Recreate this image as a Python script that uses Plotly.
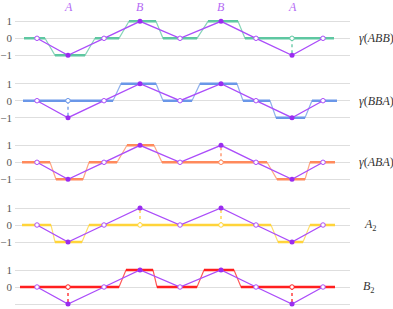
import numpy as np
import plotly.graph_objects as go

# ---------------- data ----------------
purple_x = [37, 68, 104, 140, 180, 221, 256, 292, 323]
purple_y = [0, -1, 0, 1, 0, 1, 0, -1, 0]

top_letters = ["A", "B", "B", "A"]
top_letter_x = [68, 140, 221, 292]

panel_labels = ["<i>γ</i>(<i>ABB</i>)", "<i>γ</i>(<i>BBA</i>)", "<i>γ</i>(<i>ABA</i>)",
                "<i>A</i><sub>2</sub>", "<i>B</i><sub>2</sub>"]
panel_label_x = [357, 357, 357, 362, 361]
panel_colors = ["#5ec7a1", "#6a97e8", "#ff8a5c", "#ffd43a", "#ff1f1f"]

# flat segments of each step signal: (start, end, level)
seg_abb = [(24, 45, 0), (55, 85, -1), (95, 119, 0), (129, 156, 1), (163, 197, 0), (208, 238, 1), (245, 334, 0)]
seg_bba = [(23, 113, 0), (121, 156, 1), (163, 192, 0), (200, 237, 1), (243, 270, 0), (276, 305, -1), (312, 337, 0)]
seg_aba = [(22, 50, 0), (56, 83, -1), (89, 117, 0), (127, 154, 1), (162, 267, 0), (277, 305, -1), (310, 335, 0)]
seg_a2 = [(22, 51, 0), (55, 82, -1), (89, 271, 0), (278, 303, -1), (310, 335, 0)]
seg_b2 = [(20, 119, 0), (126, 153, 1), (157, 197, 0), (204, 234, 1), (241, 335, 0)]
segments = [seg_abb, seg_bba, seg_aba, seg_a2, seg_b2]

tick_vals = [-1, 0, 1]
tick_text = ["−1", "0", "1"]

# ---------------- layout geometry ----------------
W, H = 393, 309
L, R = 15, 43
zero_px = [38.3, 100.7, 162.3, 225.0, 287.0]
px_per_unit = 17.0
yr = 1.25
x_range = [15, 350]
SERIF = "Liberation Serif"

purple_line = "#ab4dfa"
purple_mark = "#9a2cf0"
letter_col = "#b46af5"

fig = go.Figure()
layout = dict(width=W, height=H, margin=dict(l=L, r=R, t=0, b=0, autoexpand=False),
              paper_bgcolor="white", plot_bgcolor="white", showlegend=False)
annotations = []

for i, (segs, col, lab) in enumerate(zip(segments, panel_colors, panel_labels)):
    n = "" if i == 0 else str(i + 1)
    xa, ya = "x" + n, "y" + n
    h = yr * px_per_unit
    z = zero_px[i]
    dom = [1 - (z + h) / H, 1 - (z - h) / H]
    layout["xaxis" + n] = dict(range=x_range, domain=[0, 1], anchor=ya, showgrid=False, automargin=False,
                               zeroline=False, showticklabels=False, showline=False, ticks="")
    layout["yaxis" + n] = dict(range=[-yr, yr], domain=dom, anchor=xa, tickvals=tick_vals,
                               ticktext=tick_text, showgrid=True, gridcolor="#dedede", gridwidth=1,
                               zeroline=False, showline=False, ticks="", ticklabelstandoff=2,
                               automargin=False,
                               tickfont=dict(family=SERIF, size=11, color="#555555"))
    # full path (thin)
    px, py = [], []
    for s, e, lv in segs:
        px += [s, e]
        py += [lv, lv]
    fig.add_trace(go.Scatter(x=px, y=py, mode="lines", xaxis=xa, yaxis=ya,
                             line=dict(color=col, width=1.2), opacity=0.75, hoverinfo="skip"))
    # flat parts (thick)
    tx, ty = [], []
    for s, e, lv in segs:
        tx += [s, e, None]
        ty += [lv, lv, None]
    fig.add_trace(go.Scatter(x=tx, y=ty, mode="lines", xaxis=xa, yaxis=ya,
                             line=dict(color=col, width=2.6), hoverinfo="skip"))
    # mismatch markers
    step_at = np.interp(purple_x, px, py)
    for xv, pv, sv in zip(purple_x, purple_y, step_at):
        if abs(pv - sv) > 0.5:
            fig.add_trace(go.Scatter(x=[xv, xv], y=[sv, pv], mode="lines", xaxis=xa, yaxis=ya,
                                     line=dict(color=col, width=1.6, dash="dot"), opacity=0.8,
                                     hoverinfo="skip"))
            fig.add_trace(go.Scatter(x=[xv], y=[sv], mode="markers", xaxis=xa, yaxis=ya,
                                     marker=dict(size=4.5, color="white", line=dict(color=col, width=1)),
                                     hoverinfo="skip", cliponaxis=False))
    # purple path
    fig.add_trace(go.Scatter(x=purple_x, y=purple_y, mode="lines", xaxis=xa, yaxis=ya,
                             line=dict(color=purple_line, width=1.3), hoverinfo="skip"))
    fx = [x for x, y in zip(purple_x, purple_y) if y != 0]
    fy = [y for y in purple_y if y != 0]
    hx = [x for x, y in zip(purple_x, purple_y) if y == 0]
    hy = [0] * len(hx)
    fig.add_trace(go.Scatter(x=hx, y=hy, mode="markers", xaxis=xa, yaxis=ya, cliponaxis=False,
                             marker=dict(size=4.5, color="white", line=dict(color=purple_line, width=1)),
                             hoverinfo="skip"))
    fig.add_trace(go.Scatter(x=fx, y=fy, mode="markers", xaxis=xa, yaxis=ya, cliponaxis=False,
                             marker=dict(size=5, color=purple_mark), hoverinfo="skip"))
    annotations.append(dict(text=lab, xref="paper", yref="paper",
                            x=(panel_label_x[i] - L) / (W - L - R), y=1 - z / H,
                            xanchor="left", yanchor="middle", showarrow=False,
                            font=dict(family=SERIF, size=12, color="#333333")))

for t, xv in zip(top_letters, top_letter_x):
    annotations.append(dict(text="<i>" + t + "</i>", xref="x", yref="paper", x=xv, y=1 - 6.5 / H,
                            xanchor="center", yanchor="middle", showarrow=False,
                            font=dict(family=SERIF, size=12, color=letter_col)))

layout["annotations"] = annotations
fig.update_layout(**layout)
fig.write_html("out.html", config={"displayModeBar": False},
               post_script="document.body.style.margin='0';document.body.style.padding='0';")
